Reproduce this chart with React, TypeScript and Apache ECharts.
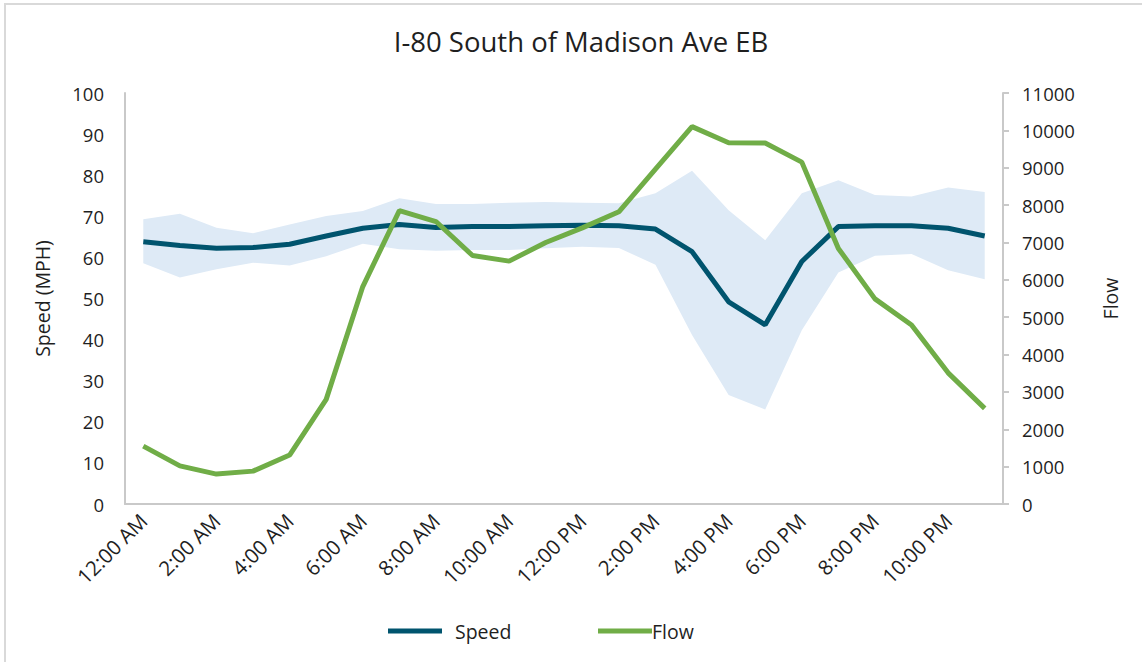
import React, { useEffect, useRef } from "react";
import * as echarts from "echarts";

const hours = [
  "12:00 AM", "1:00 AM", "2:00 AM", "3:00 AM", "4:00 AM", "5:00 AM",
  "6:00 AM", "7:00 AM", "8:00 AM", "9:00 AM", "10:00 AM", "11:00 AM",
  "12:00 PM", "1:00 PM", "2:00 PM", "3:00 PM", "4:00 PM", "5:00 PM",
  "6:00 PM", "7:00 PM", "8:00 PM", "9:00 PM", "10:00 PM", "11:00 PM",
];

const speed = [
  63.8, 62.9, 62.2, 62.4, 63.2, 65.2, 67.1, 68.0, 67.3, 67.5, 67.5, 67.7,
  67.8, 67.7, 66.9, 61.4, 49.2, 43.6, 59.0, 67.5, 67.7, 67.7, 67.1, 65.2,
];

const speedUpper = [
  69.3, 70.6, 67.2, 65.9, 68.0, 70.1, 71.3, 74.4, 73.0, 73.0, 73.3, 73.5,
  73.3, 73.2, 75.6, 81.1, 71.5, 64.2, 75.6, 78.8, 75.2, 74.8, 77.0, 75.9,
];

const speedLower = [
  58.6, 55.1, 57.1, 58.7, 58.0, 60.3, 63.3, 62.0, 61.6, 61.8, 61.8, 62.2,
  62.6, 62.3, 58.2, 41.1, 26.5, 23.0, 42.3, 56.3, 60.4, 60.8, 56.9, 54.7,
];

const flow = [
  1550, 1020, 800, 880, 1310, 2800, 5820, 7850, 7560, 6650, 6500, 7000,
  7390, 7820, 8960, 10100, 9670, 9660, 9150, 6840, 5490, 4790, 3510, 2560,
];

const TEXT = "#1f1f1f";
const FONT = "'Open Sans', sans-serif";
const AXIS = "#c9c9c9";

export default function App() {
  const ref = useRef<HTMLDivElement>(null);

  useEffect(() => {
    if (!ref.current) return;
    const chart = echarts.init(ref.current, null, { renderer: "svg" });
    const bandDiff = speedUpper.map((u, i) => +(u - speedLower[i]).toFixed(2));

    chart.setOption({
      animation: false,
      backgroundColor: "#ffffff",
      textStyle: { fontFamily: FONT, color: TEXT },
      title: {
        text: "I-80 South of Madison Ave EB",
        left: 576,
        textAlign: "center",
        top: 22,
        textStyle: { fontFamily: FONT, fontSize: 27.5, fontWeight: "normal", color: TEXT },
      },
      graphic: [
        {
          type: "rect",
          shape: { x: 5, y: 4, width: 1160, height: 680 },
          style: { fill: "none", stroke: "#d9d9d9", lineWidth: 2 },
          silent: true,
        },
      ],
      legend: [
        {
          data: [{ name: "Speed" }],
          left: 383,
          top: 616,
          icon: "rect",
          itemWidth: 54,
          itemHeight: 5,
          textStyle: { fontFamily: FONT, fontSize: 19.5, color: TEXT, padding: [0, 0, 0, 8] },
        },
        {
          data: [{ name: "Flow" }],
          left: 593,
          top: 616,
          icon: "rect",
          itemWidth: 54,
          itemHeight: 5,
          itemGap: 0,
          textStyle: { fontFamily: FONT, fontSize: 19.5, color: TEXT, padding: [0, 0, 0, -5] },
        },
      ],
      grid: { left: 125, right: 139, top: 93, bottom: 158, containLabel: false },
      xAxis: {
        type: "category",
        data: hours,
        boundaryGap: true,
        axisLine: { show: true, lineStyle: { color: AXIS, width: 2 } },
        axisTick: { show: false },
        axisLabel: {
          interval: 1,
          rotate: 45,
          margin: 13,
          fontFamily: FONT,
          fontSize: 20.5,
          color: TEXT,
        },
      },
      yAxis: [
        {
          type: "value",
          min: 0,
          max: 100,
          interval: 10,
          name: "Speed (MPH)",
          nameLocation: "middle",
          nameRotate: 90,
          nameGap: 73,
          nameTextStyle: { fontFamily: FONT, fontSize: 19.5, color: TEXT },
          axisLine: { show: true, lineStyle: { color: AXIS, width: 2 } },
          axisTick: { show: false },
          splitLine: { show: false },
          axisLabel: { margin: 21, fontFamily: FONT, fontSize: 18.5, color: TEXT },
        },
        {
          type: "value",
          position: "right",
          min: 0,
          max: 11000,
          interval: 1000,
          name: "Flow",
          nameLocation: "middle",
          nameRotate: 90,
          nameGap: 97,
          nameTextStyle: { fontFamily: FONT, fontSize: 19.5, color: TEXT },
          axisLine: { show: true, lineStyle: { color: AXIS, width: 2 } },
          axisTick: { show: true, length: 6, lineStyle: { color: AXIS, width: 2 } },
          splitLine: { show: false },
          axisLabel: {
            margin: 19,
            fontFamily: FONT,
            fontSize: 18.5,
            color: TEXT,
            formatter: (v: number) => String(v),
          },
        },
      ],
      series: [
        {
          name: "bandLower",
          type: "line",
          yAxisIndex: 0,
          data: speedLower,
          stack: "band",
          symbol: "none",
          lineStyle: { opacity: 0 },
          areaStyle: { opacity: 0 },
          silent: true,
        },
        {
          name: "bandRange",
          type: "line",
          yAxisIndex: 0,
          data: bandDiff,
          stack: "band",
          symbol: "none",
          lineStyle: { opacity: 0 },
          areaStyle: { color: "#deeaf6", opacity: 1 },
          silent: true,
        },
        {
          name: "Speed",
          type: "line",
          yAxisIndex: 0,
          data: speed,
          symbol: "none",
          color: "#00546e",
          lineStyle: { color: "#00546e", width: 5 },
          z: 3,
        },
        {
          name: "Flow",
          type: "line",
          yAxisIndex: 1,
          data: flow,
          symbol: "none",
          color: "#70ad47",
          lineStyle: { color: "#70ad47", width: 5 },
          z: 4,
        },
      ],
    });

    return () => chart.dispose();
  }, []);

  return (
    <div
      ref={ref}
      style={{ position: "fixed", left: 0, top: 0, width: 1142, height: 662 }}
    />
  );
}
